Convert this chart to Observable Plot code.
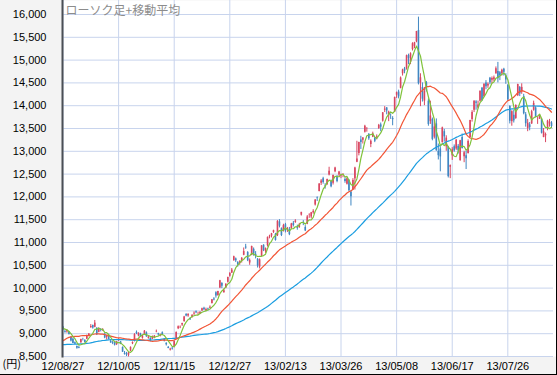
<!DOCTYPE html>
<html><head><meta charset="utf-8">
<script src="https://cdn.jsdelivr.net/npm/d3@7"></script>
<script src="https://cdn.jsdelivr.net/npm/@observablehq/plot@0.6"></script>
<style>
body{margin:0;background:#fff}
#c{width:556px;height:374px;border-right:1px solid #000;border-bottom:1px solid #000;overflow:hidden}
svg{display:block}
</style></head><body><div id="c"></div>
<script>
const title = "ローソク足+移動平均";
const unitLabel = "(円)";
const tickLabels = ["12/08/27","12/10/05","12/11/15","12/12/27","13/02/13","13/03/26","13/05/08","13/06/17","13/07/26"];
const tickBars = [0,28,56,84,112,140,168,196,224];
const yTicks = [8500,9000,9500,10000,10500,11000,11500,12000,12500,13000,13500,14000,14500,15000,15500,16000];
const maPeriods = [75, 25, 5];

// closes before the first visible bar (used only for the moving averages)
const leadClose = [
  8973,8900,8801,8876,8611,8633,8729,8556,8563,8580,8593,8657,8633,8542,
  8440,8295,8383,8533,8639,8459,8624,8536,8568,8568,8647,8721,8655,8752,8824,8798,8734,8663,8730,8874,9006,
  9003,9066,9104,9079,9020,8896,8857,8851,8720,8724,8755,8726,8795,8669,8508,8488,8365,8443,8566,8635,8695,
  8641,8664,8555,8803,8804,8881,8978,8891,8885,8929,8947,9092,9163,9171,9156,9131,9178,9070
];

const open = [
  9140,9050,9040,9040,8920,
  8880,8800,8720,8700,8800,8870,8850,8880,8940,9130,9180,9140,9120,9030,9080,9080,8990,8920,8950,
  8830,8800,8800,8760,8850,8820,8700,8570,8560,8530,8620,8780,8830,9030,8950,8990,8900,8990,9020,8900,8900,8880,
  8910,9040,9000,8950,9020,8880,8790,8700,8640,8680,8720,8890,9110,9130,9190,9270,9420,9390,9330,9360,9430,
  9480,9430,9440,9500,9560,9500,9540,9560,9660,9760,9900,9840,10000,10100,9900,10000,10130,10260,10330,
  10600,10640,10560,10540,10590,10720,10900,10780,10550,10720,10850,10740,10630,10460,10700,10940,10800,10930,11120,
  11140,11220,11180,11150,11450,11300,11250,11390,11280,11280,11300,11420,11440,11340,11330,11600,11400,11330,11400,
  11600,11560,11650,11820,11980,12120,12300,12400,12250,12270,12480,12340,12300,12550,12440,12480,12460,12480,12380,12280,
  12360,12100,12150,12400,12760,12950,13250,13240,13420,13480,13370,13150,13310,13290,13300,13500,13580,13660,13900,13950,13780,
  13800,13720,13860,14230,14300,14380,14700,14810,14810,15100,14950,15230,15300,15400,15650,14500,14400,14100,14500,14100,13650,
  13700,13310,13600,13000,13050,13190,13430,13100,13090,12650,12900,13100,13050,13110,12800,13300,12880,12900,12950,13300,
  13700,13900,14080,13950,14100,14380,14200,14500,14430,14600,14560,14570,14700,14750,14720,14700,14800,14650,14450,13980,13650,13790,
  13720,14220,14400,14300,14200,13800,13500,13580,13600,13900,13950,13650,13700,13700,13300,13340,13500,13600,13620
];
const high = [
  9160,9080,9080,9050,8930,
  8900,8820,8730,8720,8880,8900,8870,8970,9000,9200,9190,9290,9130,9130,9110,9110,9000,8960,8990,
  8870,8830,8820,8830,8890,8830,8710,8610,8590,8590,8710,8820,9000,9060,9020,9010,8960,9070,9040,8940,8910,8950,
  8960,9080,9010,8990,9040,8890,8800,8720,8680,8700,8840,9040,9170,9170,9230,9380,9440,9440,9350,9420,9480,
  9500,9470,9480,9560,9580,9560,9560,9610,9750,9790,9920,9930,10170,10120,9980,10100,10240,10340,10430,
  10700,10660,10580,10600,10670,10880,10960,10800,10640,10920,10880,10800,10650,10640,10930,10950,10880,11120,11160,
  11200,11270,11200,11480,11500,11320,11400,11420,11330,11330,11420,11460,11500,11380,11420,11660,11480,11370,11590,
  11630,11660,11720,11940,12000,12290,12380,12430,12290,12390,12650,12370,12480,12650,12470,12560,12500,12510,12420,12420,
  12380,12140,12400,12650,13220,13200,13330,13300,13570,13520,13390,13250,13420,13300,13360,13590,13620,13850,13980,13960,13880,
  13820,13760,14190,14300,14340,14630,14800,14840,15110,15130,15160,15380,15390,15630,15942,14700,14500,14400,14530,14150,14100,
  13730,13670,13710,13160,13100,13530,13480,13340,13110,12700,13080,13140,13260,13150,13240,13380,13000,13000,13250,13680,
  13890,14110,14110,14100,14330,14400,14480,14550,14500,14620,14630,14650,14850,14950,14750,14800,14820,14700,14460,14000,13890,13900,
  14020,14470,14420,14480,14250,13850,13700,13630,13900,14100,13980,13750,13800,13720,13500,13400,13680,13700,13650
];
const low = [
  9070,9010,9010,8970,8820,
  8780,8760,8660,8670,8790,8840,8790,8870,8930,9120,9100,9130,8960,9020,9040,9050,8890,8860,8870,
  8790,8760,8730,8740,8830,8760,8590,8530,8500,8490,8610,8760,8820,8980,8930,8920,8880,8980,8920,8880,8820,8870,
  8890,9020,8950,8930,8960,8820,8730,8670,8620,8640,8690,8880,9090,9110,9160,9250,9370,9360,9290,9340,9400,
  9440,9400,9420,9490,9510,9490,9500,9550,9650,9720,9780,9820,9990,9990,9890,9990,10110,10240,10320,
  10590,10560,10460,10500,10550,10710,10850,10580,10500,10710,10700,10640,10440,10420,10690,10800,10760,10900,11080,
  11100,11200,11030,11130,11320,11130,11230,11210,11220,11150,11290,11340,11420,11270,11310,11580,11370,11240,11390,
  11530,11520,11620,11800,11900,12110,12250,12280,12170,12250,12460,12200,12260,12530,12310,12440,12400,12420,12300,12260,
  12120,11800,12140,12150,12750,12900,13040,13160,13400,13420,13240,13080,13300,13190,13250,13480,13430,13640,13850,13800,13650,
  13700,13560,13850,14160,14150,14370,14650,14700,14780,14900,14900,15200,15250,15380,14455,13980,14080,14000,14300,13550,13590,
  13230,13270,13000,12810,12550,13180,13200,13000,12415,12400,12800,12980,13020,12940,12780,13050,12750,12600,12940,13290,
  13640,13850,13900,13930,14080,14100,14180,14350,14380,14460,14480,14530,14690,14500,14550,14650,14650,14470,14100,13600,13550,13620,
  13700,14200,14200,14250,13800,13530,13430,13450,13590,13880,13730,13590,13700,13380,13300,13190,13450,13530,13500
];
const close = [
  9085,9033,9069,8983,8839,
  8783,8775,8679,8680,8871,8869,8807,8959,8995,9159,9123,9232,8977,9110,9069,9091,8906,8949,8870,
  8797,8786,8747,8824,8863,8769,8596,8546,8534,8577,8701,8806,8982,9002,9010,8932,8954,9055,8933,8929,8841,8928,
  8946,9051,8975,8974,8972,8837,8757,8676,8661,8664,8830,9024,9153,9142,9222,9366,9388,9423,9308,9400,9446,
  9458,9432,9468,9545,9527,9533,9525,9581,9742,9737,9828,9923,10160,10039,9940,10080,10230,10322,10395,
  10688,10599,10508,10578,10652,10801,10879,10600,10609,10913,10747,10709,10487,10620,10926,10824,10866,11113,11138,
  11191,11260,11046,11463,11357,11153,11369,11251,11307,11173,11407,11372,11468,11309,11385,11662,11398,11254,11559,
  11606,11652,11683,11932,11968,12283,12349,12314,12239,12381,12560,12220,12468,12635,12338,12546,12472,12493,12336,12398,
  12135,12003,12362,12634,12833,13192,13192,13289,13549,13485,13275,13221,13382,13220,13316,13568,13529,13843,13926,13884,13860,
  13799,13694,14180,14285,14191,14607,14782,14758,15096,15037,15138,15360,15381,15627,14483,14612,14143,14311,14326,13589,13774,
  13261,13533,13014,12904,12877,13514,13317,13289,12445,12686,13033,13007,13245,13014,13230,13062,12969,12834,13213,13677,
  13852,14099,14055,14018,14309,14109,14472,14416,14472,14506,14599,14615,14808,14589,14658,14778,14731,14562,14129,13661,13869,13668,
  14005,14466,14258,14401,13824,13605,13615,13519,13868,14050,13752,13651,13758,13397,13425,13366,13660,13636,13542
];

const upColor = "#d94660", downColor = "#3f86c2";
const maColors = {75: "#1a9de0", 25: "#f25536", 5: "#7fc23a"};

const bars = close.map((c, i) => ({i, open: open[i], high: high[i], low: low[i], close: c}));
const all = leadClose.map((c, k) => ({i: k - leadClose.length, close: c})).concat(bars);
const candleColor = d => d.close >= d.open ? upColor : downColor;

const chart = Plot.plot({
  width: 556, height: 374,
  marginLeft: 62, marginRight: 3, marginTop: 0, marginBottom: 18,
  style: {background: "#f3f3f3", fontFamily: "'Liberation Sans', Arial, sans-serif", fontSize: "11px", color: "#000"},
  x: {domain: [-0.25, 247], axis: null, label: null},
  y: {domain: [8500, 16307], axis: null, label: null},
  color: {type: "identity"},
  marks: [
    Plot.frame({fill: "white", insetRight: -3}),
    Plot.ruleY(yTicks, {stroke: "#c8d4ed", strokeWidth: 1}),
    Plot.ruleX(tickBars, {stroke: "#c8d4ed", strokeWidth: 1}),
    Plot.axisY(yTicks, {label: null, tickSize: 0, tickPadding: 16, tickFormat: d3.format(","), fill: "#000", fontSize: 11}),
    Plot.axisX(tickBars, {label: null, tickSize: 0, tickPadding: 6, tickFormat: d => tickLabels[tickBars.indexOf(d)], fill: "#000", fontSize: 11}),
    Plot.ruleX(bars, {x: "i", y1: "low", y2: "high", stroke: candleColor, strokeWidth: 1}),
    Plot.ruleX(bars, {x: "i", y1: "open", y2: "close", stroke: candleColor, strokeWidth: 1.6}),
    ...maPeriods.map(k => Plot.lineY(all, Plot.filter(d => d.i >= 0,
      Plot.windowY({k, anchor: "end", reduce: "mean"}, {x: "i", y: "close", stroke: maColors[k], strokeWidth: 1.2})))),
    Plot.frame({anchor: "left", stroke: "#4b4f55", strokeWidth: 2}),
    Plot.text([title], {frameAnchor: "top-left", dx: 3, dy: 5.5, textAnchor: "start", lineAnchor: "top", fill: "#8c8c8c", fontSize: 12, fontFamily: "'Noto Sans CJK JP', sans-serif"}),
    Plot.text([unitLabel], {frameAnchor: "bottom-left", dx: -60, dy: 4, textAnchor: "start", lineAnchor: "top", fill: "#000", fontSize: 11, fontFamily: "'Noto Sans CJK JP', sans-serif"})
  ]
});
document.getElementById("c").appendChild(chart);
</script></body></html>
